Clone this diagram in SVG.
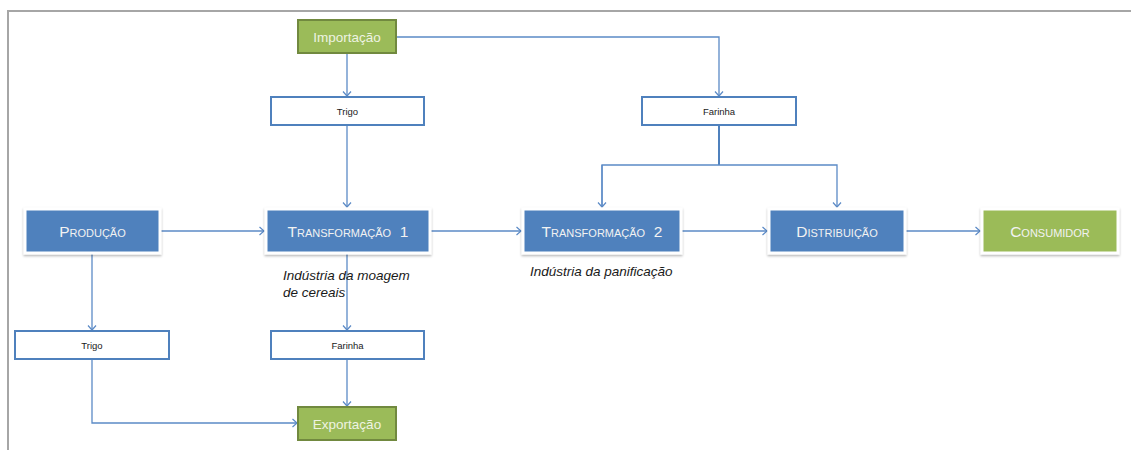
<svg xmlns="http://www.w3.org/2000/svg" width="1131" height="450" viewBox="0 0 1131 450">
<style>
.blue{fill:#4F81BD;stroke:#FFFFFF;stroke-width:3;filter:url(#sh)}
.green{fill:#9BBB59;stroke:#FFFFFF;stroke-width:3;filter:url(#sh)}
.gbox{fill:#9BBB59;stroke:#71893F;stroke-width:2}
.wbox{fill:#FFFFFF;stroke:#4F81BD;stroke-width:2}
.big{font-family:"Liberation Sans",Arial,sans-serif;font-size:15.5px;fill:#F2F2F2;font-variant:small-caps;text-anchor:middle}
.gt{font-family:"Liberation Sans",Arial,sans-serif;font-size:13.5px;fill:#EEF3E2;text-anchor:middle}
.sm{font-family:"Liberation Sans",Arial,sans-serif;font-size:9.5px;fill:#1a1a1a;text-anchor:middle}
.it{font-family:"Liberation Sans",Arial,sans-serif;font-size:13.5px;font-style:italic;fill:#1a1a1a}
.c{fill:none;stroke:#5B8AC6;stroke-width:1.3}
.c2{fill:none;stroke:#4F81BD;stroke-width:2}
</style>
<defs>
<filter id="sh" x="-10%" y="-20%" width="120%" height="150%">
<feDropShadow dx="0" dy="1.5" stdDeviation="1.2" flood-color="#000" flood-opacity="0.3"/>
</filter>
<marker id="ar" markerWidth="12" markerHeight="12" refX="6" refY="6" orient="auto" markerUnits="userSpaceOnUse">
<path d="M1.5,2 L6,6 L1.5,10" fill="none" stroke="#5B8AC6" stroke-width="1.2"/>
</marker>
</defs>
<rect width="1131" height="450" fill="#FFFFFF"/>
<path d="M8,450 V11 H1131" fill="none" stroke="#A6A6A6" stroke-width="2"/>

<g id="connectors">
<path class="c" d="M396,37 H719 V96" marker-end="url(#ar)"/>
<path class="c" d="M347,53 V96" marker-end="url(#ar)"/>
<path class="c" d="M347,125 V207" marker-end="url(#ar)"/>
<path class="c2" d="M719,125 V165"/>
<path class="c" d="M602,207 V165 H837 V207" marker-end="url(#ar)"/>
<path class="c" d="M602,165 V207" marker-end="url(#ar)"/>
<path class="c" d="M160,231 H264" marker-end="url(#ar)"/>
<path class="c" d="M430,231 H521" marker-end="url(#ar)"/>
<path class="c" d="M681,231 H767" marker-end="url(#ar)"/>
<path class="c" d="M905,231 H980" marker-end="url(#ar)"/>
<path class="c" d="M92,253 V330" marker-end="url(#ar)"/>
<path class="c" d="M347,253 V330" marker-end="url(#ar)"/>
<path class="c" d="M92,359 V423 H297" marker-end="url(#ar)"/>
<path class="c" d="M347,359 V406" marker-end="url(#ar)"/>
</g>

<g id="importacao">
<rect class="gbox" x="298" y="20" width="98" height="33"/>
<text class="gt" x="347" y="41.5">Importação</text>
</g>
<g id="trigo-top">
<rect class="wbox" x="271" y="97" width="153" height="28"/>
<text class="sm" x="347.5" y="114.5">Trigo</text>
</g>
<g id="farinha-top">
<rect class="wbox" x="642" y="97" width="154" height="28"/>
<text class="sm" x="719" y="114.5">Farinha</text>
</g>
<g id="producao">
<rect class="blue" x="25" y="209" width="135" height="44"/>
<text class="big" x="92.5" y="236.5">Produção</text>
</g>
<g id="transformacao1">
<rect class="blue" x="266" y="209" width="164" height="44"/>
<text class="big" x="348" y="236.5" xml:space="preserve">Transformação  1</text>
</g>
<g id="transformacao2">
<rect class="blue" x="523" y="209" width="158" height="44"/>
<text class="big" x="602" y="236.5" xml:space="preserve">Transformação  2</text>
</g>
<g id="distribuicao">
<rect class="blue" x="769" y="209" width="136" height="44"/>
<text class="big" x="837" y="236.5">Distribuição</text>
</g>
<g id="consumidor">
<rect class="green" x="982" y="209" width="136" height="44"/>
<text class="big" x="1050" y="236.5">Consumidor</text>
</g>
<g id="label-moagem">
<text class="it" x="283" y="280">Indústria da moagem</text>
<text class="it" x="283" y="297">de cereais</text>
</g>
<g id="label-panificacao">
<text class="it" x="530" y="276">Indústria da panificação</text>
</g>
<g id="trigo-bottom">
<rect class="wbox" x="15" y="331" width="154" height="28"/>
<text class="sm" x="92" y="348.5">Trigo</text>
</g>
<g id="farinha-bottom">
<rect class="wbox" x="271" y="331" width="153" height="28"/>
<text class="sm" x="347.5" y="348.5">Farinha</text>
</g>
<g id="exportacao">
<rect class="gbox" x="298" y="407" width="98" height="33"/>
<text class="gt" x="347" y="428.5">Exportação</text>
</g>
</svg>
